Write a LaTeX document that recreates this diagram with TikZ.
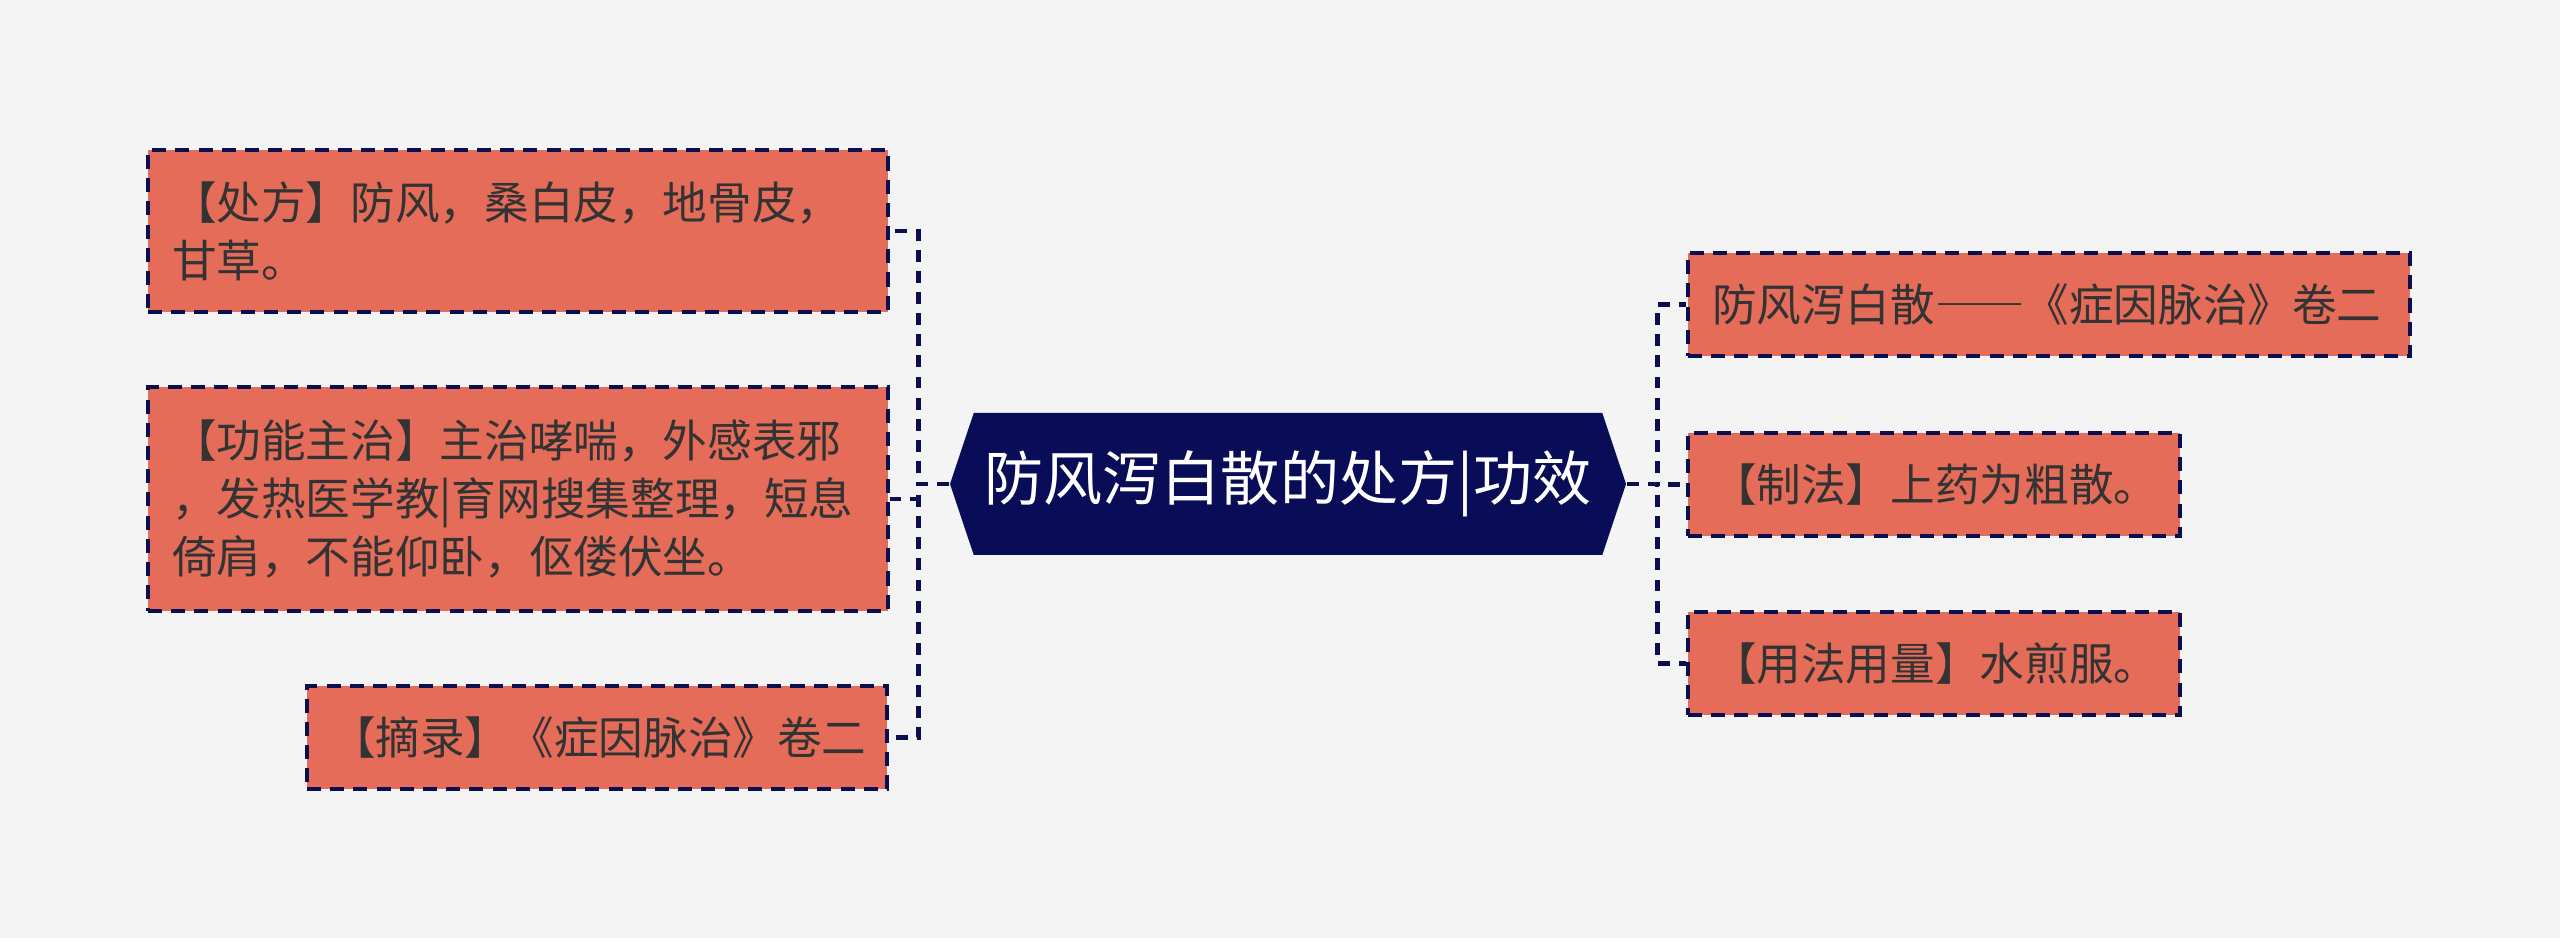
\documentclass[tikz,border=0pt]{standalone}
\usepackage{fontspec}
\setmainfont{Noto Sans CJK SC}
\usetikzlibrary{shapes.symbols}
\definecolor{bgfill}{HTML}{F4F4F4}
\definecolor{leaffill}{HTML}{E46C59}
\definecolor{leafedge}{HTML}{0B0E4F}
\definecolor{hubfill}{HTML}{090C57}
\definecolor{leaftext}{HTML}{333333}
\newcommand{\fwdash}{{\addfontfeatures{RawFeature=+fwid}——}}

\begin{document}
\begin{tikzpicture}[
  leaf/.style={rectangle, draw=leafedge, fill=leaffill, line width=1pt,
               dash pattern=on 4pt off 2.6pt, inner xsep=0.24cm, inner ysep=0pt,
               align=left, text=leaftext, font=\fontsize{12.7}{16.5}\selectfont},
  hub/.style={signal, signal to=west and east, signal pointer angle=143,
              fill=hubfill, text=white, minimum width=6.76cm, minimum height=1.42cm,
              inner sep=0pt, font=\fontsize{16.8}{20}\selectfont},
  link/.style={draw=leafedge, line width=1.4pt, dash pattern=on 3.4pt off 2.6pt},
]
\fill[bgfill] (0,0) rectangle (25.6,9.38);
\useasboundingbox (0,0) rectangle (25.6,9.38);
% ---- central topic ----
\node[hub] (hub) at (12.88,4.54) {防风泻白散的处方|功效};
% ---- left branch ----
\node[leaf, text width=6.92cm, minimum height=1.62cm] (l1) at (5.18,7.07)
  {【处方】防风，桑白皮，地骨皮，\\甘草。};
\node[leaf, text width=6.92cm, minimum height=2.24cm] (l2) at (5.18,4.39)
  {【功能主治】主治哮喘，外感表邪\\，发热医学教|育网搜集整理，短息\\倚肩，不能仰卧，伛偻伏坐。};
\node[leaf, text width=5.32cm, minimum height=1.03cm] (l3) at (5.97,2.005)
  {【摘录】《症因脉治》卷二};
% ---- right branch ----
\node[leaf, text width=6.74cm, minimum height=1.03cm] (r1) at (20.49,6.335)
  {防风泻白散\fwdash《症因脉治》卷二};
\node[leaf, text width=4.44cm, minimum height=1.03cm] (r2) at (19.34,4.535)
  {【制法】上药为粗散。};
\node[leaf, text width=4.44cm, minimum height=1.03cm] (r3) at (19.34,2.745)
  {【用法用量】水煎服。};
% ---- connectors ----
\draw[link] (hub.west) -- ++(-0.31,0) |- (l1.east);
\draw[link] (hub.west) -- ++(-0.31,0) |- (l2.east);
\draw[link] (hub.west) -- ++(-0.31,0) |- (l3.east);
\draw[link] (hub.east) -- ++(0.31,0) |- (r1.west);
\draw[link] (hub.east) -- ++(0.31,0) |- (r2.west);
\draw[link] (hub.east) -- ++(0.31,0) |- (r3.west);
\end{tikzpicture}
\end{document}
